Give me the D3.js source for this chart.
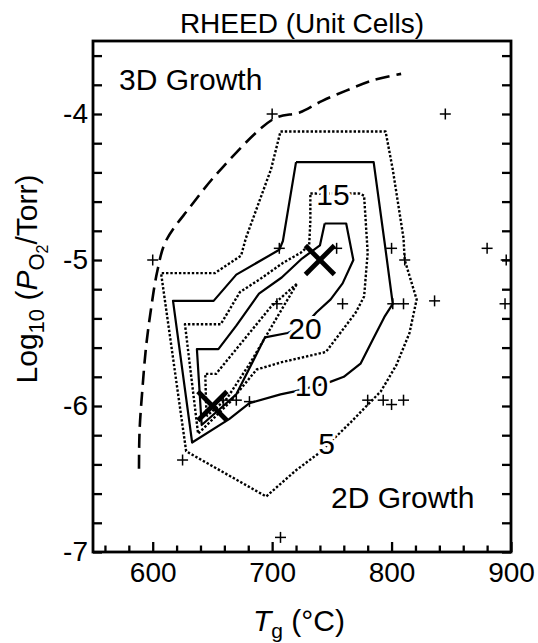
<!DOCTYPE html>
<html>
<head>
<meta charset="utf-8">
<script src="https://cdn.jsdelivr.net/npm/d3@7"></script>
<style>
  body { margin: 0; background: #fff; }
  svg text { font-family: "Liberation Sans", Arial, Helvetica, sans-serif; fill: #000; }
</style>
</head>
<body>
<svg id="chart" width="538" height="643"></svg>
<script>
// Growth conditions of the sampled films: temperature (°C) and log10 of O2 pressure (Torr)
const sampleT    = [700, 845, 600, 706, 754, 800, 811, 880, 896, 704, 759, 801, 810, 836, 895, 659, 670, 681, 780, 793, 800, 810, 625, 707];
const sampleLogP = [-4.0, -4.0, -5.0, -4.92, -4.92, -4.92, -5.0, -4.92, -5.0, -5.30, -5.30, -5.30, -5.30, -5.28, -5.30, -5.96, -5.96, -5.97, -5.96, -5.96, -5.99, -5.96, -6.37, -6.9];

// Conditions highlighted with large crosses
const crossT    = [740, 650];
const crossLogP = [-5.0, -6.0];

// 3D / 2D growth boundary (dashed)
const boundaryT    = [588.5, 589, 591.5, 594.5, 598.5, 604, 611, 631, 658, 702, 723, 742, 762, 784, 808];
const boundaryLogP = [-6.43, -6.17, -5.87, -5.59, -5.34, -5.07, -4.87, -4.64, -4.37, -4.03, -3.99, -3.91, -3.84, -3.77, -3.725];

// RHEED oscillation count contours, [T, log10 P] vertices
const contour5 = [[707,-4.12],[795,-4.12],[801,-4.38],[810,-4.85],[811,-5.0],[821,-5.27],[815,-5.5],[804,-5.72],[791,-5.9],[779,-6.0],[766,-6.11],[756,-6.19],[738,-6.33],[720,-6.44],[695,-6.62],[628,-6.31],[607,-5.09],[652,-5.09],[674,-4.97],[678,-4.85],[699,-4.38],[707,-4.12]];
const contour10 = [[720,-4.33],[785,-4.33],[794,-4.87],[801,-5.30],[794,-5.39],[784,-5.55],[774,-5.71],[760,-5.80],[747,-5.84],[733,-5.87],[719,-5.90],[707,-5.92],[681,-5.98],[664,-6.09],[633,-6.25],[617,-5.28],[651,-5.28],[670,-5.10],[706,-4.93],[709,-4.87],[720,-4.33]];
const contour15 = [[732,-4.545],[773,-4.545],[777,-4.56],[780,-4.95],[777,-5.25],[770,-5.36],[745,-5.63],[708,-5.70],[687,-5.75],[665,-5.97],[638,-6.19],[627,-5.44],[657,-5.44],[673,-5.22],[690,-5.13],[709,-5.02],[724,-4.95],[731,-4.90],[732,-4.73],[732,-4.545]];
const contour20 = [[744,-4.75],[762,-4.75],[768,-5.0],[759,-5.16],[749,-5.27],[737,-5.36],[727,-5.45],[713,-5.50],[694,-5.53],[670,-5.92],[641,-6.13],[637,-5.61],[655,-5.61],[670,-5.45],[689,-5.23],[708,-5.12],[725,-4.99],[740,-4.90],[744,-4.75]];
const contour25 = [[645,-6.07],[644,-5.78],[653,-5.78],[699,-5.32],[721,-5.16],[705,-5.38],[682,-5.70],[662,-5.95],[645,-6.07]];

const contourPaths  = [contour5, contour10, contour15, contour20, contour25];
const contourDotted = [true, false, true, false, true];

// Contour labels
const labelText = ["5", "10", "15", "20"];
const labelT    = [745.5, 733, 751, 727.5];
const labelLogP = [-6.26, -5.86, -4.55, -5.47];

// Axis ticks
const tempTicks = d3.range(560, 901, 20);
const pressureTicks = d3.range(-35, -17).map(i => i / 5);

const svg = d3.select("#chart");
const plotLeft = 93, plotRight = 511, plotTop = 41, plotBottom = 552;
const x = d3.scaleLinear().domain([550, 900]).range([plotLeft, plotRight]);
const y = d3.scaleLinear().domain([-7, -3.5]).range([plotBottom, plotTop]);

svg.append("defs").append("clipPath").attr("id", "plot")
  .append("rect").attr("x", plotLeft).attr("y", plotTop)
  .attr("width", plotRight - plotLeft).attr("height", plotBottom - plotTop);

const plot = svg.append("g").attr("clip-path", "url(#plot)");
const line = d3.line().x(d => x(d[0])).y(d => y(d[1]));

// growth boundary
plot.append("path")
  .attr("d", d3.line().curve(d3.curveCatmullRom)(boundaryT.map((t, i) => [x(t), y(boundaryLogP[i])])))
  .attr("fill", "none").attr("stroke", "#000").attr("stroke-width", 2.6)
  .attr("stroke-dasharray", "14,7");

// contours
contourPaths.forEach((c, i) => {
  plot.append("path").attr("d", line(c))
    .attr("fill", "none").attr("stroke", "#000")
    .attr("stroke-linejoin", "round")
    .attr("stroke-width", contourDotted[i] ? 2.4 : 2.2)
    .attr("stroke-dasharray", contourDotted[i] ? "2.4,1.9" : null);
});

// sample markers
const plus = plot.append("g").attr("stroke", "#000").attr("stroke-width", 1.5);
sampleT.forEach((t, i) => {
  const cx = x(t), cy = y(sampleLogP[i]);
  plus.append("line").attr("x1", cx - 5.5).attr("x2", cx + 5.5).attr("y1", cy).attr("y2", cy);
  plus.append("line").attr("x1", cx).attr("x2", cx).attr("y1", cy - 5.5).attr("y2", cy + 5.5);
});

// contour labels with a white halo breaking the line
labelText.forEach((s, i) => {
  plot.append("text")
    .attr("x", x(labelT[i])).attr("y", y(labelLogP[i]) + 10.5)
    .attr("text-anchor", "middle").attr("font-size", 30)
    .attr("stroke", "#fff").attr("stroke-width", 6).attr("paint-order", "stroke")
    .style("stroke-linejoin", "round")
    .text(s);
});

// highlighted conditions
const cross = plot.append("g").attr("stroke", "#000").attr("stroke-width", 4.8);
crossT.forEach((t, i) => {
  const cx = x(t), cy = y(crossLogP[i]), r = 14.5;
  cross.append("line").attr("x1", cx - r).attr("y1", cy - r).attr("x2", cx + r).attr("y2", cy + r);
  cross.append("line").attr("x1", cx - r).attr("y1", cy + r).attr("x2", cx + r).attr("y2", cy - r);
});

// region annotations
svg.append("text").attr("x", 119).attr("y", 90).attr("font-size", 30).text("3D Growth");
svg.append("text").attr("x", 331).attr("y", 508).attr("font-size", 30).text("2D Growth");

// axes: ticks point inward
const isInt = d => Math.abs(d - Math.round(d)) < 1e-9;
const xAxis = svg.append("g").attr("transform", `translate(0,${plotBottom})`)
  .call(d3.axisBottom(x).tickValues(tempTicks).tickSize(-6.5).tickPadding(10)
        .tickFormat(d => d % 100 === 0 ? String(d) : ""));
xAxis.selectAll(".tick line").filter(d => d % 100 === 0).attr("y2", -10);

svg.append("g").attr("transform", `translate(${plotLeft},0)`)
  .call(d3.axisLeft(y).tickValues(pressureTicks).tickSize(-9).tickPadding(5)
        .tickFormat(d => isInt(d) ? String(Math.round(d)) : ""));
svg.append("g").attr("transform", `translate(${plotRight},0)`)
  .call(d3.axisRight(y).tickValues(pressureTicks).tickSize(-9).tickFormat(""));

svg.selectAll(".domain").remove();
svg.selectAll(".tick line").attr("stroke", "#000").attr("stroke-width", 2.3);
svg.selectAll(".tick text").attr("font-size", 28)
  .style("font-family", "'Liberation Sans', Arial, sans-serif").attr("fill", "#000");

// frame
svg.append("rect").attr("x", plotLeft).attr("y", plotTop)
  .attr("width", plotRight - plotLeft).attr("height", plotBottom - plotTop)
  .attr("fill", "none").attr("stroke", "#000").attr("stroke-width", 2.8);

// title and axis titles
svg.append("text").attr("x", 302).attr("y", 33).attr("text-anchor", "middle")
  .attr("font-size", 28).text("RHEED (Unit Cells)");

const xt = svg.append("text").attr("x", 299).attr("y", 631).attr("text-anchor", "middle").attr("font-size", 30);
xt.append("tspan").attr("font-style", "italic").text("T");
xt.append("tspan").attr("dy", 7).attr("font-size", 21).text("g");
xt.append("tspan").attr("dy", -7).text(" (°C)");

const yt = svg.append("text").attr("transform", "translate(37,279) rotate(-90)")
  .attr("text-anchor", "middle").attr("font-size", 30);
yt.append("tspan").text("Log");
yt.append("tspan").attr("dy", 7).attr("font-size", 22).text("10");
yt.append("tspan").attr("dy", -7).text(" (");
yt.append("tspan").attr("font-style", "italic").text("P");
yt.append("tspan").attr("dy", 7).attr("font-size", 22).text("O");
yt.append("tspan").attr("dy", 4).attr("font-size", 16).text("2");
yt.append("tspan").attr("dy", -11).text("/Torr)");
</script>
</body>
</html>
